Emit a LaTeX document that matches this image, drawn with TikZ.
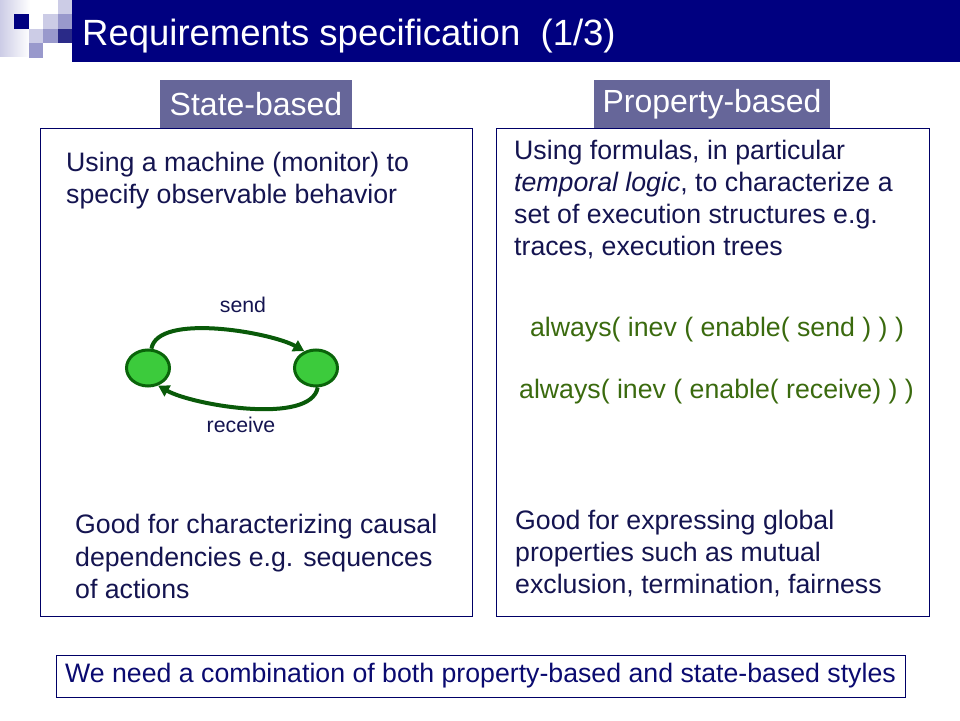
\documentclass[tikz,border=0pt]{standalone}
\usepackage{fontspec}
\setmainfont{Liberation Sans}
\usetikzlibrary{arrows.meta}
\usetikzlibrary{shapes.geometric}
\usetikzlibrary{positioning}

\definecolor{titlenavy}{HTML}{000080}
\definecolor{headlilac}{HTML}{666699}
\definecolor{framenavy}{HTML}{000066}
\definecolor{bodynavy}{HTML}{141450}
\definecolor{notenavy}{HTML}{0A0A70}
\definecolor{formulagreen}{HTML}{3A6A0E}
\definecolor{statefill}{HTML}{3CCB3C}
\definecolor{stateedge}{HTML}{0A640A}
\definecolor{logolight}{HTML}{CCCCE6}
\definecolor{logomid}{HTML}{9999CC}
\definecolor{logodark}{HTML}{2A2A88}

\tikzset{
  panel/.style={draw=framenavy, line width=0.9pt, inner sep=0pt},
  headbox/.style={fill=headlilac, text=white, inner sep=0pt,
    minimum width=#1, minimum height=48pt, font=\fontsize{32}{36}\selectfont},
  bodytext/.style={text=bodynavy, anchor=base west, align=left, inner sep=0pt,
    font=\fontsize{26.7}{32}\selectfont},
  formula/.style={text=formulagreen, anchor=base, inner sep=0pt,
    font=\fontsize{26.7}{32}\selectfont},
  statenode/.style={ellipse, fill=statefill, draw=stateedge, line width=3pt,
    minimum width=43pt, minimum height=36pt, inner sep=0pt},
  trans/.style={draw=stateedge!90!black, line width=4pt,
    -{Triangle[length=11pt,width=12pt]}, looseness=0.62},
  translabel/.style={text=bodynavy, anchor=base, inner sep=0pt,
    font=\fontsize{21.3}{24}\selectfont}
}

\begin{document}
\begin{tikzpicture}[x=1pt, y=1pt]
  \useasboundingbox (0,0) rectangle (960,720);

  % logo squares and title bar
  \shade[left color=logolight, right color=white] (0,663) rectangle (30,720);
  \foreach \c/\r/\col in {1/1/titlenavy, 4/0/logolight, 3/1/logolight, 4/1/logomid,
                          2/2/logolight, 3/2/logomid, 4/2/logodark, 2/3/logomid}
    \fill[\col] (14.4*\c, 720-14.4*\r) rectangle ++(14.4,-14.4);
  \fill[titlenavy] (72,658) rectangle (960,720);
  \node[text=white, anchor=base west, inner sep=0pt, font=\fontsize{36.5}{40}\selectfont]
    (title) at (82,674) {Requirements specification \ (1/3)};

  % the two panels
  \node[panel, minimum width=432pt, minimum height=488pt] (leftpanel) at (256,348) {};
  \node[panel, minimum width=433pt, minimum height=488pt] (rightpanel) at (712.5,348) {};
  \node[headbox=192pt] (statehead) at (256,616) {State-based};
  \node[headbox=236pt] (prophead) at (712,616) {Property-based};

  % state-based side
  \node[bodytext] (machinetext) at (66,516)
    {Using a machine (monitor) to\\specify observable behavior};
  \node[statenode] (sleft) at (148,352) {};
  \node[statenode] (sright) at (316,352) {};
  \draw[trans] (sleft.80) to[out=80, in=150] (sright.125);
  \draw[trans] (sright.-85) to[out=-100, in=-30] (sleft.-60);
  \node[translabel] (sendlabel) at (243,407) {send};
  \node[translabel] (recvlabel) at (241,287) {receive};
  \node[bodytext] (causaltext) at (75,122)
    {Good for characterizing causal\\dependencies e.g. sequences\\of actions};

  % property-based side
  \node[bodytext] (formulatext) at (514,464)
    {Using formulas, in particular\\\textit{temporal logic}, to characterize a\\set of execution structures e.g.\\traces, execution trees};
  \node[formula] (sendformula) at (717,383) {always( inev ( enable( send ) ) )};
  \node[formula] (recvformula) at (716.5,321) {always( inev ( enable( receive) ) )};
  \node[bodytext] (globaltext) at (515,127)
    {Good for expressing global\\properties such as mutual\\exclusion, termination, fairness};

  % bottom note
  \node[panel, text=notenavy, minimum width=849pt, minimum height=42pt,
        font=\fontsize{26.7}{32}\selectfont] (note) at (480.5,44)
    {We need a combination of both property-based and state-based styles};
\end{tikzpicture}
\end{document}
